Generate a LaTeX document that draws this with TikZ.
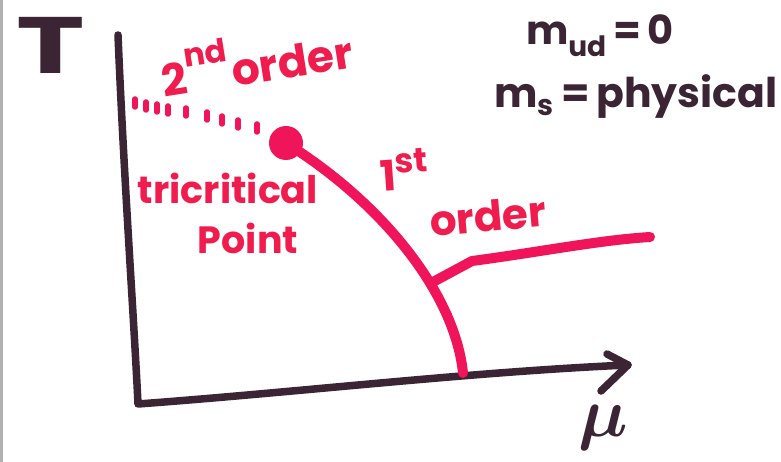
\documentclass[tikz,border=0pt]{standalone}
\usepackage{fontspec}
\setmainfont{Poppins}
\definecolor{ink}{HTML}{3B2433}
\definecolor{marker}{HTML}{F0145A}
\definecolor{redtext}{HTML}{F01C4E}
\begin{document}
\begin{tikzpicture}[x=1pt,y=-1pt,
  axis/.style={ink, line width=7.5pt, line cap=round, line join=round},
  phase/.style={marker, line width=10pt, line cap=round, line join=round},
  dotmark/.style={marker, line width=5.5pt, line cap=round},
  lbl/.style={redtext, inner sep=0pt, font=\fontsize{38}{38}\selectfont\bfseries},
  blk/.style={ink, inner sep=0pt, font=\fontsize{36}{36}\selectfont\bfseries}]
\useasboundingbox[fill=white] (0,0) rectangle (781,462);
\draw[gray!60, line width=3pt] (1.5,0) -- (1.5,462);

% axes
\coordinate (top) at (118,35);
\coordinate (corner) at (138,404);
\coordinate (tip) at (628,365);
\coordinate (barbA) at (607,354);
\coordinate (barbB) at (601,391);
\draw[axis] (top) .. controls (124,180) and (134,320) .. (corner)
  .. controls (300,392) and (470,372) .. (tip);
\draw[axis] (barbA) -- (tip) -- (barbB);
\node[ink, inner sep=0pt, xscale=1.45, font=\fontsize{80}{80}\selectfont\bfseries] (Tlabel) at (51,45) {T};
\node[ink, inner sep=0pt, scale=7, font=\boldmath] (mulabel) at (603,428) {$\mu$};

% phase lines
\node[circle, fill=marker, minimum size=34pt, inner sep=0pt] (tcp) at (286,143) {};
\coordinate (junc) at (433,282);
\coordinate (foot) at (463,373);
\coordinate (kink) at (472,261);
\coordinate (rend) at (650,237);
\draw[phase] (tcp.center) .. controls (385,205) and (455,295) .. (foot);
\draw[phase] (junc) -- (kink) .. controls (540,252) and (600,240) .. (rend);

% second-order dotted line
\foreach \x/\y in {135/103,146/106,157/108,168/110,186/112,207/116,222/120,238/124,257/128}
  \draw[dotmark] (\x,\y-4) -- (\x,\y+4);

% labels
\node[lbl, font=\fontsize{44}{44}\selectfont\bfseries, rotate=9] (second) at (256,58) {2\raisebox{0.6em}{\fontsize{32}{32}\selectfont nd}\hspace{2pt}order};
\node[lbl] (tric) at (228,188) {tricritical};
\node[lbl] (point) at (248,238) {Point};
\node[lbl, font=\fontsize{42}{42}\selectfont\bfseries, rotate=4] (first) at (404,170) {1\raisebox{0.4em}{\fontsize{34}{34}\selectfont st}};
\node[lbl, font=\fontsize{42}{42}\selectfont\bfseries, rotate=5] (order1) at (488,216) {order};

\node[blk, font=\fontsize{40}{40}\selectfont\bfseries] (mud) at (600,36) {m\textsubscript{ud}\,=\,0};
\node[blk, font=\fontsize{41}{41}\selectfont\bfseries] (ms) at (636,97) {m\textsubscript{s}\,=\,physical};
\end{tikzpicture}
\end{document}
